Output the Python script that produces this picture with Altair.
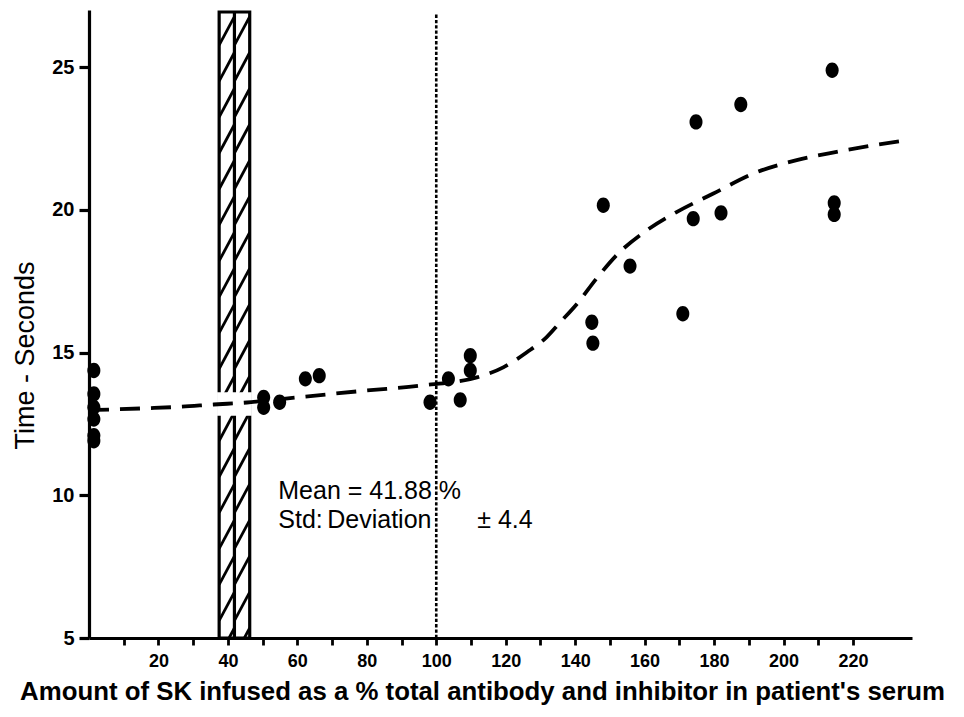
import altair as alt
import pandas as pd

# ---- data ----
pt_x = [1.4, 1.4, 1.4, 1.4, 1.4, 1.4,
        50.3, 50.3, 54.9, 62.3, 66.3,
        98.2, 103.5, 106.9, 109.8, 109.8,
        144.8, 145.1, 148.1, 155.8, 171.0, 174.8, 174.0, 182.0, 187.7,
        214.0, 214.6, 214.6]
pt_y = [14.37, 13.55, 13.08, 12.67, 12.09, 11.91,
        13.43, 13.08, 13.26, 14.08, 14.19,
        13.26, 14.08, 13.34, 14.89, 14.37,
        16.06, 15.33, 20.16, 18.03, 16.36, 23.08, 19.69, 19.89, 23.69,
        24.89, 20.24, 19.84]

curve_x = [0, 16.7, 26.3, 35.9, 45.5, 56, 80, 95.4, 111.7, 119.3, 126.1, 131.8,
           135.7, 140.5, 146.2, 152.0, 160.6, 169.2, 179.8, 191.3, 203.8, 215.3,
           225.8, 235.9]
curve_y = [12.98, 13.05, 13.1, 13.18, 13.25, 13.38, 13.67, 13.84, 14.13, 14.48,
           15.01, 15.54, 16.06, 16.7, 17.6, 18.42, 19.28, 19.92, 20.57, 21.27,
           21.74, 22.03, 22.26, 22.44]

mean_val = 41.88
std_val = 4.4
ref_line_x = 100

x_ticks = list(range(10, 230, 10))
y_ticks = [5, 10, 15, 20, 25]

x_title = "Amount of SK infused as a % total antibody and inhibitor in patient's serum"
y_title = "Time - Seconds"

ann_x = [54.5, 54.5, 68.6, 111.8]
ann_y = [9.87, 8.85, 8.85, 8.85]
ann_t = ["Mean = 41.88 %", "Std:", "Deviation", "\u00b1 4.4"]

# ---- scales / axes ----
X_MIN, X_MAX = 0, 237
Y_MIN, Y_MAX = 5, 27
xs = alt.Scale(domain=[X_MIN, X_MAX], nice=False, zero=False)
ys = alt.Scale(domain=[Y_MIN, Y_MAX], nice=False, zero=False)

FONT = "Liberation Sans"
x_axis = alt.Axis(
    values=x_ticks,
    labelExpr="datum.value % 20 == 0 ? datum.label : ''",
    grid=False, tickSize=7, tickWidth=2.8, tickColor="black",
    domainWidth=3.2, domainColor="black",
    labelFont=FONT, labelFontSize=18, labelFontWeight="bold", labelColor="black",
    labelPadding=7,
    title=x_title, titleFont=FONT, titleFontSize=25.8, titleFontWeight="bold",
    titleColor="black", titleX=393, titleY=61, titleAlign="center",
    titleBaseline="alphabetic", titleAnchor="start",
)
y_axis = alt.Axis(
    values=y_ticks, grid=False, tickSize=10, tickWidth=3.2, tickColor="black",
    domainWidth=3.2, domainColor="black",
    labelFont=FONT, labelFontSize=20, labelFontWeight="bold", labelColor="black",
    labelPadding=5,
    title=y_title, titleFont=FONT, titleFontSize=27, titleFontWeight="normal",
    titleColor="black", titleAngle=270, titleX=-56, titleY=345,
    titleAlign="center", titleBaseline="alphabetic", titleAnchor="start",
)

# ---- hatch segments for the mean +/- std band ----
rise, step = 1.0, 1.26
segs = []
for xa, xb in [(mean_val - std_val, mean_val), (mean_val, mean_val + std_val)]:
    y0 = Y_MIN - rise + 0.35
    while y0 < Y_MAX:
        ax_, ay_, bx_, by_ = xa, y0, xb, y0 + rise
        if ay_ < Y_MIN:
            t = (Y_MIN - y0) / rise
            ax_, ay_ = xa + t * (xb - xa), Y_MIN
        if by_ > Y_MAX:
            t = (Y_MAX - y0) / rise
            bx_, by_ = xa + t * (xb - xa), Y_MAX
        if ay_ < by_:
            segs.append({"x": ax_, "y": ay_, "x2": bx_, "y2": by_})
        y0 += step
hatch_df = pd.DataFrame(segs)

band_df = pd.DataFrame({"x": [mean_val - std_val], "x2": [mean_val + std_val],
                        "y": [Y_MIN], "y2": [26.93]})
mid_df = pd.DataFrame({"x": [mean_val], "y": [Y_MIN], "y2": [26.93]})
gap_df = pd.DataFrame({"x": [mean_val - std_val - 0.6], "x2": [mean_val + std_val + 0.6],
                       "y": [12.79], "y2": [13.61]})
ref_df = pd.DataFrame({"x": [ref_line_x], "y": [Y_MIN], "y2": [26.9]})
curve_df = pd.DataFrame({"x": curve_x, "y": curve_y})
pts_df = pd.DataFrame({"x": pt_x, "y": pt_y})
ann_df = pd.DataFrame({"x": ann_x, "y": ann_y, "t": ann_t})

X = alt.X("x:Q", scale=xs, axis=x_axis)
Y = alt.Y("y:Q", scale=ys, axis=y_axis)

hatch = alt.Chart(hatch_df).mark_rule(color="black", strokeWidth=2.8).encode(
    x=X, y=Y, x2="x2:Q", y2="y2:Q")
band = alt.Chart(band_df).mark_rect(fill="white", fillOpacity=0, stroke="black",
                                    strokeWidth=3.2).encode(
    x=X, x2="x2:Q", y=Y, y2="y2:Q")
mid = alt.Chart(mid_df).mark_rule(color="black", strokeWidth=3.2).encode(
    x=X, y=Y, y2="y2:Q")
gap = alt.Chart(gap_df).mark_rect(color="white").encode(
    x=X, x2="x2:Q", y=Y, y2="y2:Q")
ref = alt.Chart(ref_df).mark_rule(color="black", strokeWidth=2.6,
                                  strokeDash=[3.3, 2]).encode(
    x=X, y=Y, y2="y2:Q")
curve = alt.Chart(curve_df).mark_line(color="black", strokeWidth=3.8,
                                      strokeDash=[20, 11], interpolate="monotone").encode(
    x=X, y=Y)
ellipse = "M -0.85 0 A 0.85 1 0 1 1 0.85 0 A 0.85 1 0 1 1 -0.85 0 Z"
pts = alt.Chart(pts_df).mark_point(shape=ellipse, filled=True, color="black",
                                   opacity=1, size=235).encode(x=X, y=Y)
ann = alt.Chart(ann_df).mark_text(font=FONT, fontSize=25, color="black",
                                  align="left", baseline="alphabetic").encode(
    x=X, y=Y, text="t:N")

chart = alt.layer(hatch, band, mid, gap, ref, curve, pts, ann).properties(
    width=823, height=628,
    autosize=alt.AutoSizeParams(type="none"),
    padding={"left": 81, "top": 2, "right": 44, "bottom": 71},
    background="white",
).configure_view(stroke=None)

chart.save("out.html", embed_options={"renderer": "svg", "actions": False})
